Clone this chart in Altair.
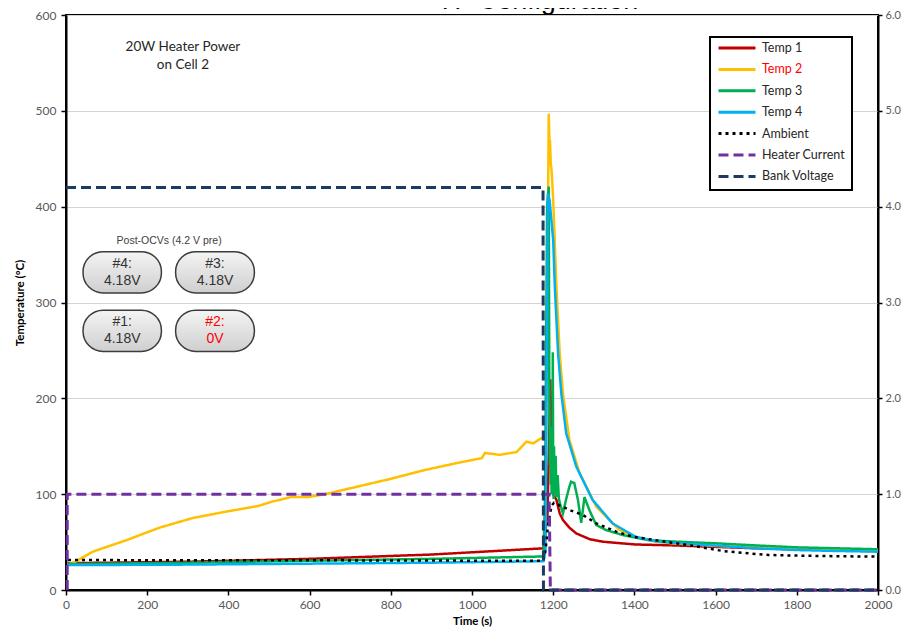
import altair as alt
import pandas as pd

# ---------------- data ----------------
series_names = ["Temp 1", "Temp 2", "Temp 3", "Temp 4", "Ambient", "Heater Current", "Bank Voltage"]
series_colors = ["#c00000", "#ffc000", "#00b050", "#00b0f0", "#000000", "#7030a0", "#1f3864"]
series_dash = [[1, 0], [1, 0], [1, 0], [1, 0], [3, 4], [10, 5], [10, 5]]

temp1_t = [5, 300, 600, 900, 1176, 1186, 1193, 1195, 1200, 1208, 1216, 1224, 1240, 1257, 1290, 1322, 1403, 1500, 1600, 1700, 1800, 1900, 2000]
temp1_v = [28, 29.5, 32.5, 37, 43.5, 80, 220, 165, 100, 94, 80, 73, 65, 59, 53, 50.4, 47.5, 46.5, 45, 43.5, 42.5, 41.5, 40.5]

temp2_t = [5, 17, 66, 149, 230, 311, 393, 474, 506, 555, 597, 638, 719, 800, 882, 963, 1024, 1032, 1068, 1110, 1134, 1151, 1171,
           1178, 1183, 1189, 1191, 1192, 1194, 1196, 1200, 1208, 1216, 1224, 1240, 1265, 1306, 1363, 1403, 1452, 1500, 1600, 1700, 1800, 1900, 2000]
temp2_v = [27, 28, 40, 52, 65, 75, 81.7, 87.7, 92, 97, 97, 100, 108, 116, 125, 132.5, 137.6, 143, 141, 144, 154.8, 153, 158.6,
           157, 160, 497, 462, 470, 445, 438, 407, 316, 247, 205, 156.5, 122, 87, 62.6, 55.6, 50.4, 48.5, 46, 44.5, 43, 42, 41.5]

temp3_t = [5, 300, 600, 900, 1176, 1180, 1185, 1189, 1190.5, 1192, 1193, 1194, 1195, 1196, 1197, 1198, 1199, 1200, 1201, 1202,
           1204, 1206, 1208, 1211, 1214, 1218, 1224, 1232, 1240, 1244, 1252, 1261, 1269, 1277, 1289, 1306, 1330, 1371, 1435,
           1500, 1600, 1700, 1800, 1900, 2000]
temp3_v = [27, 28.5, 30.5, 32.5, 35, 100, 400, 421, 200, 130, 170, 110, 160, 100, 140, 105, 248, 120, 95, 150,
           100, 140, 97, 120, 95, 88, 80, 95, 108, 113, 111.5, 94, 70, 97, 83.5, 67.8, 62.6, 57.4, 52,
           50.5, 48.7, 46.5, 44.5, 43.5, 42.5]

temp4_t = [5, 300, 600, 900, 1176, 1181, 1187, 1191, 1200, 1204, 1212, 1220, 1232, 1257, 1297, 1346, 1403, 1450, 1500, 1600, 1700, 1800, 1900, 2000]
temp4_v = [26, 26.5, 27.5, 28.5, 30, 40, 414, 407, 365, 316, 247, 205, 163.5, 128.7, 94, 69.6, 55.6, 51, 49, 46.3, 43.5, 41.7, 40.7, 40]

ambient_t = [5, 300, 600, 900, 1176, 1182, 1188, 1196, 1202, 1240, 1273, 1306, 1355, 1396, 1477, 1558, 1620, 1730, 1850, 2000]
ambient_v = [31.3, 31, 31, 30.7, 30.5, 45, 70, 88, 91, 83.5, 78.3, 69.6, 60.9, 55.6, 50.4, 45.2, 40.5, 36.5, 35.5, 34.8]

current_t = [3, 3, 1190, 1193, 2000]
current_v = [0, 1.0, 1.0, 0, 0]

voltage_t = [0, 1175, 1176, 2000]
voltage_v = [4.2, 4.2, 0, 0]

ocv_cells = ["#4:", "#3:", "#1:", "#2:"]
ocv_values = ["4.18V", "4.18V", "4.18V", "0V"]

x_ticks = list(range(0, 2001, 200))
y_ticks = list(range(0, 601, 100))
y2_ticks = [0, 1, 2, 3, 4, 5, 6]

# ---------------- tables ----------------
def long(name, ts, vs):
    return pd.DataFrame({"series": name, "t": ts, "v": vs, "i": range(len(ts))})

left_df = pd.concat([
    long("Temp 1", temp1_t, temp1_v),
    long("Temp 2", temp2_t, temp2_v),
    long("Temp 3", temp3_t, temp3_v),
    long("Temp 4", temp4_t, temp4_v),
    long("Ambient", ambient_t, ambient_v),
], ignore_index=True)

right_df = pd.concat([
    long("Heater Current", current_t, current_v),
    long("Bank Voltage", voltage_t, voltage_v),
], ignore_index=True)

# pill boxes laid out on a 2x2 grid (data coordinates of the left axis)
col_x = [(42, 235), (270, 464)]
row_y = [(310, 353), (249, 292)]
boxes = []
for k, (c, val) in enumerate(zip(ocv_cells, ocv_values)):
    r, cidx = divmod(k, 2)
    x1, x2 = col_x[cidx]
    y1, y2 = row_y[r]
    boxes.append({"cell": c, "label": f"{c}\n{val}", "x1": x1, "x2": x2, "y1": y1, "y2": y2,
                  "xc": (x1 + x2) / 2, "yc": (y1 + y2) / 2})
box_df = pd.DataFrame(boxes)

notes_df = pd.DataFrame({
    "text": ["20W Heater Power\non Cell 2", "Post-OCVs  (4.2 V pre)"],
    "x": [288, 254],
    "y": [567, 364],
    "size": ["a", "b"],
})

FONT = "Lato"
XS = alt.Scale(domain=[0, 2000], nice=False)
YS = alt.Scale(domain=[0, 600], nice=False)

color_scale = alt.Scale(domain=series_names, range=series_colors)
dash_scale = alt.Scale(domain=series_names, range=series_dash)
legend = alt.Legend(
    orient="none", legendX=644, legendY=22, title=None,
    symbolType="stroke", symbolSize=1369, symbolStrokeWidth=3, clipHeight=8,
    rowPadding=8.4, labelFont=FONT, labelFontSize=12.5, labelOffset=5,
    labelColor={"expr": "datum.label == 'Temp 2' ? '#ff0000' : '#262626'"},
    strokeColor="black", fillColor="white", padding=7,
)

x_enc = alt.X("t:Q", scale=XS, axis=alt.Axis(
    values=x_ticks, format="d", grid=False, domainColor="black", domainWidth=2, tickColor="black",
    tickSize=5, tickWidth=1.5, labelColor="#595959", labelFont=FONT, labelFontSize=12,
    labelPadding=4, title="Time (s)", titleFont=FONT, titleFontSize=11.5, titleFontWeight="bold",
    titleColor="black", titlePadding=5, labelFlush=False))

left_lines = alt.Chart(left_df).mark_line(strokeWidth=2.5).encode(
    x=x_enc,
    y=alt.Y("v:Q", scale=YS, axis=alt.Axis(
        values=y_ticks, grid=True, gridColor="#d4d4d4", gridWidth=1, domainColor="black",
        domainWidth=2, tickColor="black", tickSize=5, tickWidth=1.5, labelColor="#595959",
        labelFont=FONT, labelFontSize=12, labelPadding=5, title="Temperature (°C)",
        titleFont=FONT, titleFontSize=11.5, titleFontWeight="bold", titleColor="black",
        titlePadding=10)),
    color=alt.Color("series:N", scale=color_scale, legend=legend, sort=series_names),
    strokeDash=alt.StrokeDash("series:N", scale=dash_scale, legend=legend, sort=series_names),
    order="i:Q",
)

right_lines = alt.Chart(right_df).mark_line(strokeWidth=3).encode(
    x=alt.X("t:Q", scale=XS),
    y=alt.Y("v:Q", scale=alt.Scale(domain=[0, 6], nice=False), axis=alt.Axis(
        orient="right", values=y2_ticks, format=".1f", grid=False, domainColor="black",
        domainWidth=2, tickColor="black", tickSize=4, tickWidth=1.5, labelColor="#595959",
        labelFont=FONT, labelFontSize=11, labelPadding=3, title=None)),
    color=alt.Color("series:N", scale=color_scale, legend=legend, sort=series_names),
    strokeDash=alt.StrokeDash("series:N", scale=dash_scale, legend=legend, sort=series_names),
    order="i:Q",
)

gradient = alt.LinearGradient(
    gradient="linear", x1=0, x2=0, y1=0, y2=1,
    stops=[alt.GradientStop(color="#f4f4f4", offset=0), alt.GradientStop(color="#cfcfcf", offset=1)],
)
pills = alt.Chart(box_df).mark_rect(cornerRadius=20, stroke="#3c3c3c", strokeWidth=1.5, fill=gradient).encode(
    x=alt.X("x1:Q", scale=XS), x2="x2:Q",
    y=alt.Y("y1:Q", scale=YS, axis=None), y2="y2:Q",
)
pill_text = alt.Chart(box_df).mark_text(
    font="Liberation Sans", fontSize=14, lineBreak="\n", lineHeight=17, align="center",
    baseline="middle", dy=-8.5
).encode(
    x=alt.X("xc:Q", scale=XS), y=alt.Y("yc:Q", scale=YS, axis=None), text="label:N",
    color=alt.condition(alt.datum.cell == "#2:", alt.value("#ff0000"), alt.value("#333333")),
)

note1 = alt.Chart(notes_df).transform_filter(alt.datum.size == "a").mark_text(
    font=FONT, fontSize=13.5, lineBreak="\n", lineHeight=18.5, align="center", baseline="middle", color="#262626"
).encode(x=alt.X("x:Q", scale=XS), y=alt.Y("y:Q", scale=YS, axis=None), text="text:N")

note2 = alt.Chart(notes_df).transform_filter(alt.datum.size == "b").mark_text(
    font="Liberation Sans", fontSize=10.5, align="center", baseline="middle", color="#404040"
).encode(x=alt.X("x:Q", scale=XS), y=alt.Y("y:Q", scale=YS, axis=None), text="text:N")

title = alt.Chart(pd.DataFrame({"text": ["Π- Configuration"]})).mark_text(
    font="Liberation Sans", fontSize=27, align="center", baseline="alphabetic", color="black"
).encode(x=alt.value(474), y=alt.value(-6), text="text:N")

chart = alt.layer(left_lines, right_lines, pills, pill_text, note1, note2, title).resolve_scale(
    y="independent"
).properties(
    width=812, height=575,
    autosize=alt.AutoSizeParams(type="none"),
    padding={"left": 58, "top": 7, "right": 25, "bottom": 39},
).configure_view(stroke="black", strokeWidth=2).configure_legend(strokeWidth=2)

chart.save("out.html", embed_options={"renderer": "svg", "actions": False})
